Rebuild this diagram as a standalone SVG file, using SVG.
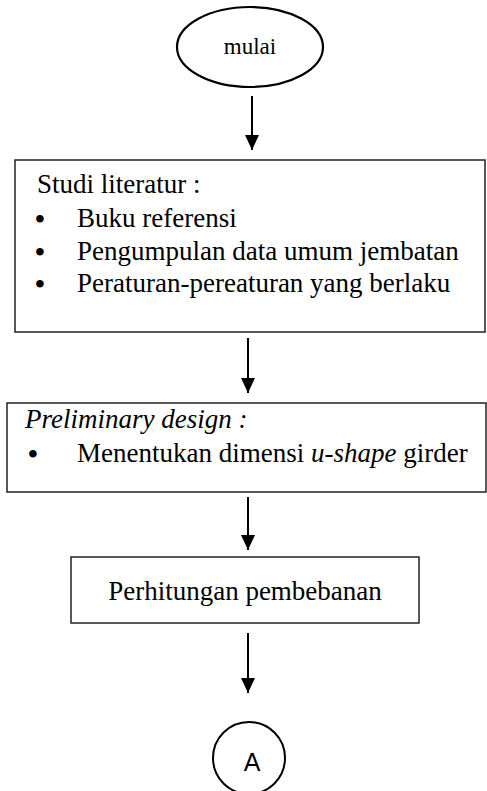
<svg xmlns="http://www.w3.org/2000/svg" width="487" height="791" viewBox="0 0 487 791">
<defs>
<marker id="ah" viewBox="0 0 10 10" refX="10" refY="5" markerWidth="15" markerHeight="14" markerUnits="userSpaceOnUse" orient="auto" preserveAspectRatio="none">
<path d="M0,0 L10,5 L0,10 z" fill="#000"/>
</marker>
<style>
.box{fill:#fff;stroke:#222;stroke-width:1.5}
.t{font-family:"Liberation Serif","Times New Roman",serif;font-size:27px;fill:#000}
.it{font-style:italic}
.b{font-family:"Liberation Serif","Times New Roman",serif;font-size:28px;font-weight:bold;fill:#000;text-anchor:middle}
.con{stroke:#000;stroke-width:2;fill:none}
</style>
</defs>
<rect width="487" height="791" fill="#fff"/>
<g id="start">
<ellipse cx="250" cy="47" rx="73" ry="40" fill="#fff" stroke="#000" stroke-width="2.2"/>
<text class="t" x="250" y="54" text-anchor="middle" style="font-size:23px">mulai</text>
</g>
<g id="studi">
<rect class="box" x="15" y="160" width="470" height="172"/>
<text class="t" x="37" y="193">Studi literatur :</text>
<text class="b" x="40" y="228">•</text>
<text class="t" x="77" y="227">Buku referensi</text>
<text class="b" x="40" y="261">•</text>
<text class="t" x="77" y="260">Pengumpulan data umum jembatan</text>
<text class="b" x="40" y="293">•</text>
<text class="t" x="77" y="292">Peraturan-pereaturan yang berlaku</text>
</g>
<g id="prelim">
<rect class="box" x="7" y="403" width="479" height="89"/>
<text class="t it" x="25" y="428">Preliminary design :</text>
<text class="b" x="33" y="463">•</text>
<text class="t" x="77" y="462">Menentukan dimensi <tspan class="it">u-shape</tspan> girder</text>
</g>
<g id="beban">
<rect class="box" x="71" y="557" width="348" height="66"/>
<text class="t" x="245" y="600" text-anchor="middle">Perhitungan pembebanan</text>
</g>
<g id="A">
<circle cx="249" cy="758" r="36" fill="#fff" stroke="#000" stroke-width="2"/>
<text x="252" y="771" text-anchor="middle" font-family="Liberation Sans, Arial, sans-serif" font-size="25">A</text>
</g>
<g id="connectors">
<line class="con" x1="252" y1="96" x2="252" y2="150" marker-end="url(#ah)"/>
<line class="con" x1="248" y1="338" x2="248" y2="393" marker-end="url(#ah)"/>
<line class="con" x1="248" y1="497" x2="248" y2="550" marker-end="url(#ah)"/>
<line class="con" x1="248" y1="633" x2="248" y2="693" marker-end="url(#ah)"/>
</g>
</svg>
